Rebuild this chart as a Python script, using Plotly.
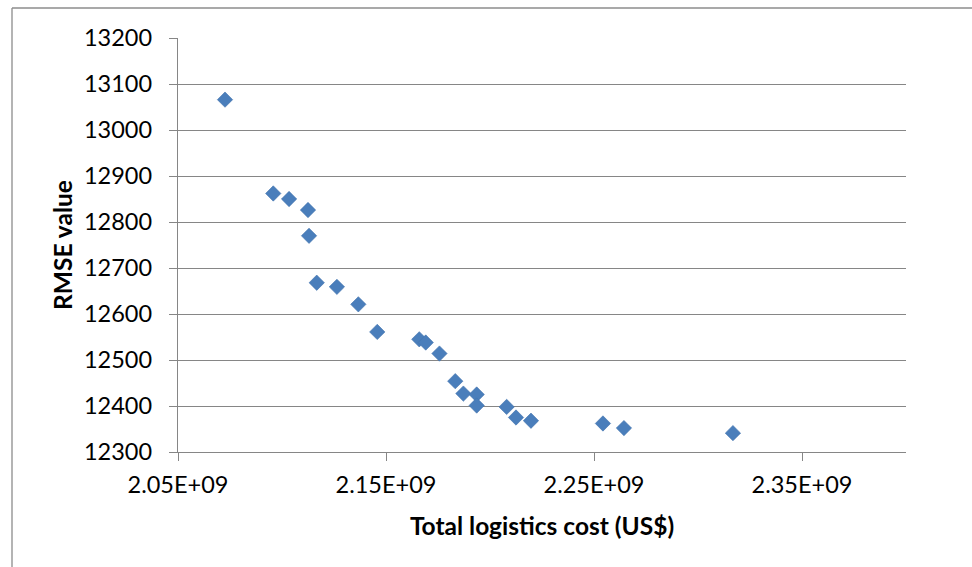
import plotly.graph_objects as go

# Total logistics cost (US$) vs. RMSE for each solution
total_cost = [
    2.0726e9, 2.0958e9, 2.1034e9, 2.1125e9, 2.1130e9, 2.1167e9, 2.1264e9,
    2.1367e9, 2.1458e9, 2.1660e9, 2.1691e9, 2.1757e9, 2.1833e9, 2.1872e9,
    2.1936e9, 2.1936e9, 2.2080e9, 2.2125e9, 2.2197e9, 2.2543e9, 2.2644e9,
    2.3168e9,
]
rmse = [
    13066, 12862, 12850, 12826, 12770, 12668, 12659,
    12621, 12561, 12545, 12538, 12514, 12454, 12427,
    12425, 12401, 12398, 12375, 12368, 12362, 12352,
    12341,
]

x_tick_vals = [2.05e9, 2.15e9, 2.25e9, 2.35e9]
x_tick_text = ["2.05E+09", "2.15E+09", "2.25E+09", "2.35E+09"]
y_tick_vals = [12300, 12400, 12500, 12600, 12700, 12800, 12900, 13000, 13100, 13200]

W, H = 972, 567
L, R, T, B = 178, 66, 38, 115
pw, ph = W - L - R, H - T - B

grid = "#868686"
font_family = "Lato, 'Open Sans', sans-serif"

fig = go.Figure(
    go.Scatter(
        x=total_cost,
        y=rmse,
        mode="markers",
        marker=dict(symbol="diamond", size=11.8, color="#4A7EBB",
                    line=dict(width=0.6, color="#4272AD")),
        hoverinfo="x+y",
    )
)

fig.update_layout(
    width=W,
    height=H,
    margin=dict(l=L, r=R, t=T, b=B, pad=0),
    paper_bgcolor="white",
    plot_bgcolor="white",
    showlegend=False,
    font=dict(family=font_family, size=23.5, color="black"),
    xaxis=dict(
        range=[2.05e9, 2.40e9],
        tickvals=x_tick_vals,
        ticktext=x_tick_text,
        ticks="outside",
        ticklen=8,
        tickcolor=grid,
        tickwidth=1.4,
        showline=True,
        linecolor=grid,
        linewidth=1.4,
        showgrid=False,
        zeroline=False,
        ticklabelstandoff=4,
        title=dict(text="<b>Total logistics cost (US$)</b>",
                   font=dict(size=24.5), standoff=20),
    ),
    yaxis=dict(
        range=[12300, 13200],
        tickvals=y_tick_vals,
        tickformat="d",
        ticks="outside",
        ticklen=8,
        tickcolor=grid,
        tickwidth=1.4,
        showline=True,
        linecolor=grid,
        linewidth=1.4,
        showgrid=True,
        gridcolor=grid,
        gridwidth=1.4,
        zeroline=False,
        ticklabelstandoff=12,
        title=dict(text="<b>RMSE value</b>", font=dict(size=24.5), standoff=4),
    ),
)

# Outer chart border (top and left edges visible within the page)
bx0 = (12 - L) / pw
by1 = (H - B - 8) / ph
fig.add_shape(type="line", xref="paper", yref="paper",
              x0=bx0, x1=(W + 20 - L) / pw, y0=by1, y1=by1,
              line=dict(color="#8C8C8C", width=1.3))
fig.add_shape(type="line", xref="paper", yref="paper",
              x0=bx0, x1=bx0, y0=by1, y1=(H - B - H - 20) / ph,
              line=dict(color="#8C8C8C", width=1.3))

fig.write_html("out.html")
